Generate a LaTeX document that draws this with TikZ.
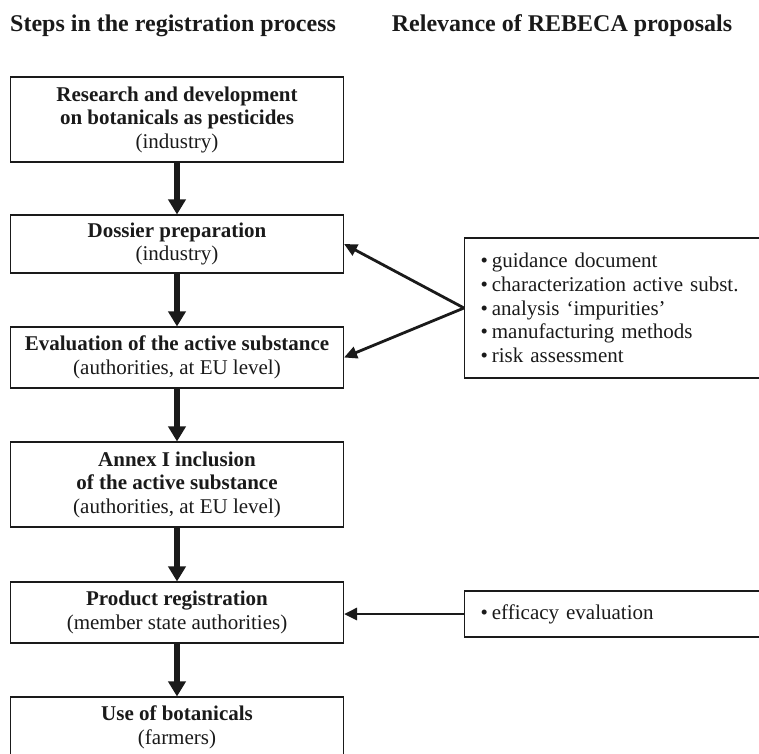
\documentclass[tikz,border=0pt]{standalone}
\usepackage{fontspec}
\setmainfont{Liberation Serif}
\usetikzlibrary{arrows.meta}
\definecolor{ink}{HTML}{1A1A1A}
\newcommand{\bul}{\textbullet\hspace{4pt}}
\begin{document}
\begin{tikzpicture}[x=1pt,y=-1pt,
  stepbox/.style={draw=ink, line width=1.1pt, minimum width=333pt, inner sep=0pt, align=center, text=ink,
    font=\fontsize{21}{23.5}\selectfont},
  relbox/.style={draw=ink, line width=1.1pt, inner xsep=16pt, inner ysep=0pt, text width=290pt, align=left, text=ink,
    anchor=west, font=\fontsize{21}{23.7}\selectfont},
  flow/.style={draw=ink, line width=6pt, -{Triangle[length=15pt,width=17pt]}},
  link/.style={draw=ink, line width=2.8pt, -{Triangle[length=13pt,width=12pt]}},
  head/.style={font=\fontsize{24}{28}\selectfont\bfseries, anchor=base west, inner sep=0pt, text=ink}
]
\useasboundingbox (0,0) rectangle (759,753);
\clip (0,0) rectangle (759,753);

\node[head] (t1) at (10,31.7) {Steps in the registration process};
\node[head] (t2) at (391.7,31.7) {Relevance of REBECA proposals};

\node[stepbox, minimum height=85pt] (b1) at (177,119.5)
  {\textbf{Research and development}\\\textbf{on botanicals as pesticides}\\(industry)};
\node[stepbox, minimum height=58pt] (b2) at (177,244)
  {\textbf{Dossier preparation}\\(industry)};
\node[stepbox, minimum height=61pt] (b3) at (177,357.5)
  {\textbf{Evaluation of the active substance}\\(authorities, at EU level)};
\node[stepbox, minimum height=85pt] (b4) at (177,484.5)
  {\textbf{Annex I inclusion}\\\textbf{of the active substance}\\(authorities, at EU level)};
\node[stepbox, minimum height=61pt] (b5) at (177,612.5)
  {\textbf{Product registration}\\(member state authorities)};
\node[stepbox, minimum height=61pt] (b6) at (177,727.5)
  {\textbf{Use of botanicals}\\(farmers)};

\node[relbox, minimum height=140pt] (r1) at (464,308)
  {\bul guidance document\\
   \bul characterization active subst.\\
   \bul analysis `impurities'\\
   \bul manufacturing methods\\
   \bul risk assessment};
\node[relbox, minimum height=46pt] (r2) at (464,614)
  {\bul efficacy evaluation};

\draw[flow] (b1) -- (b2);
\draw[flow] (b2) -- (b3);
\draw[flow] (b3) -- (b4);
\draw[flow] (b4) -- (b5);
\draw[flow] (b5) -- (b6);

\draw[link] (r1.west) -- (b2.east);
\draw[link] (r1.west) -- (b3.east);
\draw[link] (r2.west) -- (r2.west -| b5.east);
\end{tikzpicture}
\end{document}
